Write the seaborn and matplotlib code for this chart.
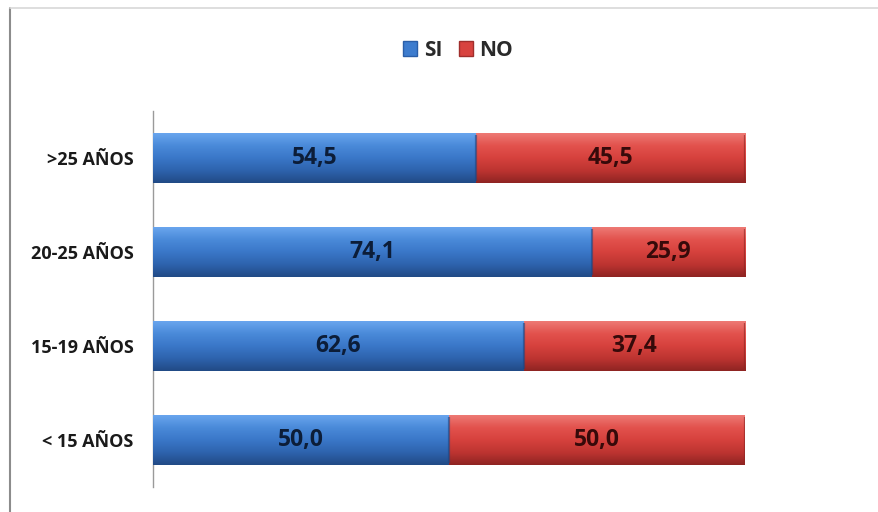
import numpy as np
import pandas as pd
import matplotlib
matplotlib.use("Agg")
import matplotlib.pyplot as plt
import seaborn as sns
from matplotlib.colors import LinearSegmentedColormap
from matplotlib.lines import Line2D
from matplotlib.patches import Patch

categories = [">25 AÑOS", "20-25 AÑOS", "15-19 AÑOS", "< 15 AÑOS"]
si_values = [54.5, 74.1, 62.6, 50.0]
no_values = [45.5, 25.9, 37.4, 50.0]
series_names = ["SI", "NO"]

df = pd.DataFrame({"grupo": categories, "SI": si_values, "NO": no_values})
df["TOTAL"] = df["SI"] + df["NO"]

sns.set_theme(style="white")
FAMILY = ["Open Sans", "DejaVu Sans"]
plt.rcParams["font.family"] = FAMILY

fig = plt.figure(figsize=(8.79, 5.12), dpi=100)
ax = fig.add_axes([153 / 879, 1 - 487 / 512, (745 - 153) / 879, (487 - 111) / 512])

blue_mid = "#3d7cce"
red_mid = "#d8433f"

# stacked bars: the NO segment is the full bar, SI drawn over it
sns.barplot(data=df, y="grupo", x="TOTAL", color=red_mid, width=0.53,
            orient="h", ax=ax, saturation=1, edgecolor="none")
n_red = len(ax.patches)
sns.barplot(data=df, y="grupo", x="SI", color=blue_mid, width=0.53,
            orient="h", ax=ax, saturation=1, edgecolor="none")

blue_cmap = LinearSegmentedColormap.from_list(
    "b", ["#6aa6ee", "#4a8ad9", "#3a77c8", "#2e63ad", "#214a85"])
red_cmap = LinearSegmentedColormap.from_list(
    "r", ["#ee7a75", "#e2524d", "#d6413d", "#bd3431", "#8e2422"])
grad = np.linspace(0, 1, 256).reshape(-1, 1)

patches = list(ax.patches)
for i, p in enumerate(patches):
    is_blue = i >= n_red
    cmap = blue_cmap if is_blue else red_cmap
    x0, y0 = p.get_x(), p.get_y()
    w, h = p.get_width(), p.get_height()
    # red visible part starts where the SI segment ends
    x_start = x0 if is_blue else si_values[i]
    im = ax.imshow(grad, cmap=cmap, aspect="auto",
                   extent=[x_start, x0 + w, y0 + h, y0],
                   zorder=3 if is_blue else 2, interpolation="bicubic")
    im.set_clip_path(p)
    # darker end caps for a bevelled look
    edge = "#1f4580" if is_blue else "#8a2422"
    ax.plot([x0 + w, x0 + w], [y0 + 0.02, y0 + h - 0.02], color=edge, lw=1.6,
            alpha=0.6, zorder=5, solid_capstyle="butt")
    p.set_alpha(0)

# value labels
for i in range(len(categories)):
    ax.text(si_values[i] / 2, i, f"{si_values[i]:.1f}".replace(".", ","),
            ha="center", va="center", fontsize=16.5, fontweight="bold",
            color="#0c1d38", zorder=10)
    ax.text(si_values[i] + no_values[i] / 2, i, f"{no_values[i]:.1f}".replace(".", ","),
            ha="center", va="center", fontsize=16.5, fontweight="bold",
            color="#360a0a", zorder=10)

ax.set_xlim(0, 100)
ax.set_ylim(3.5, -0.5)
ax.set_xlabel("")
ax.set_ylabel("")
ax.set_xticks([])
for s in ["top", "right", "bottom"]:
    ax.spines[s].set_visible(False)
ax.spines["left"].set_color("#9a9a9a")
ax.spines["left"].set_linewidth(1.0)
ax.tick_params(axis="y", length=0, pad=14)
for lab in ax.get_yticklabels():
    lab.set_fontweight("bold")
    lab.set_fontsize(13)
    lab.set_color("#1a1a1a")

handles = [Patch(facecolor="#3d7cce", edgecolor="#2a5ea8"),
           Patch(facecolor="#d8433f", edgecolor="#a02e2c")]
fig.legend(handles, series_names, loc="center", bbox_to_anchor=(458 / 879, 1 - 50 / 512),
           ncol=2, frameon=False, handlelength=0.7, handleheight=0.7,
           handletextpad=0.3, columnspacing=0.8,
           prop={"weight": "bold", "size": 15, "family": FAMILY},
           labelcolor="#2a2a2a")

# chart border
fig.add_artist(Line2D([10 / 879, 10 / 879], [0, 1 - 8 / 512], transform=fig.transFigure,
                      color="#8c8c8c", lw=1.5))
fig.add_artist(Line2D([10 / 879, 1], [1 - 8 / 512, 1 - 8 / 512], transform=fig.transFigure,
                      color="#d8d8d8", lw=1.2))

fig.savefig("out.png", dpi=100)
